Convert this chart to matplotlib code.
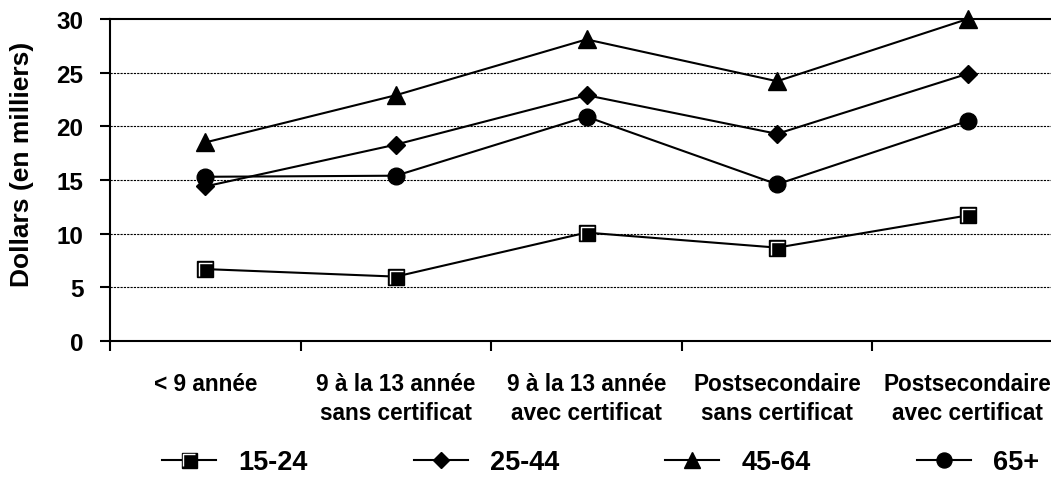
import numpy as np
import matplotlib
matplotlib.use("Agg")
import matplotlib.pyplot as plt
from matplotlib.path import Path

# Données
categories = ["< 9 année",
              "9 à la 13 année\nsans certificat",
              "9 à la 13 année\navec certificat",
              "Postsecondaire\nsans certificat",
              "Postsecondaire\navec certificat"]
age_15_24 = [6.7, 6.0, 10.1, 8.7, 11.7]
age_25_44 = [14.4, 18.3, 22.9, 19.3, 24.9]
age_45_64 = [18.5, 22.9, 28.1, 24.2, 30.0]
age_65 = [15.3, 15.4, 20.9, 14.6, 20.5]
series_labels = ["15-24", "25-44", "45-64", "65+"]
y_ticks = [0, 5, 10, 15, 20, 25, 30]

plt.rcParams['font.family'] = ['Liberation Sans', 'DejaVu Sans']
plt.rcParams['font.weight'] = 'bold'

fig = plt.figure(figsize=(10.51, 4.85), dpi=100)
ax = fig.add_axes([110 / 1051, 143 / 485, 953 / 1051, 322 / 485])

x = np.arange(len(categories))

# Petit reflet blanc dans les carrés (forme en Γ)
reflet = Path([(-0.38, -0.42), (-0.38, 0.38), (0.42, 0.38)],
              [Path.MOVETO, Path.LINETO, Path.LINETO])

commun = dict(color='black', lw=1.5, clip_on=False, zorder=3)
l1, = ax.plot(x, age_15_24, marker='s', ms=12, mfc='black', mec='black', **commun)
l1b, = ax.plot(x, age_15_24, ls='none', marker=reflet, ms=10, mfc='none',
               mec='white', mew=1.0, clip_on=False, zorder=4)
l2, = ax.plot(x, age_25_44, marker='D', ms=9.5, mfc='black', mec='black', **commun)
l3, = ax.plot(x, age_45_64, marker='^', ms=13.5, mfc='black', mec='black', **commun)
l4, = ax.plot(x, age_65, marker='o', ms=12, mfc='black', mec='black', **commun)

ax.set_xlim(-0.5, len(categories) - 0.5)
ax.set_ylim(0, 30)

# Axe des x : traits aux limites des catégories, étiquettes au centre
ax.set_xticks(np.arange(len(categories) + 1) - 0.5)
ax.set_xticklabels([])
ax.set_xticks(x, minor=True)
ax.set_xticklabels(categories, minor=True, fontsize=16.3, linespacing=1.35)
ax.tick_params(axis='x', which='major', direction='out', length=7, width=1.5)
ax.tick_params(axis='x', which='minor', length=0, pad=22)

ax.set_yticks(y_ticks)
ax.set_yticklabels([str(v) for v in y_ticks], fontsize=17.5)
ax.tick_params(axis='y', direction='out', length=7, width=1.5, pad=12)

# Grille pointillée
for v in y_ticks[1:-1]:
    ax.axhline(v, color='black', lw=0.8, ls=(0, (2, 1)), zorder=1)

for s in ['left', 'bottom', 'top']:
    ax.spines[s].set_linewidth(1.5)
ax.spines['right'].set_visible(False)

fig.text(22 / 1051, 1 - 164 / 485, "Dollars (en milliers)", rotation=90,
         ha='center', va='center', fontsize=19, fontweight='bold')

fig.legend([(l1, l1b), l2, l3, l4], series_labels, ncol=4, frameon=False,
           loc='center left', bbox_to_anchor=(162 / 1051, 22 / 485),
           borderpad=0, borderaxespad=0, fontsize=19.5, markerscale=0.9,
           handlelength=2.0, handletextpad=0.83, columnspacing=3.9)

fig.savefig("out.png", dpi=100)
